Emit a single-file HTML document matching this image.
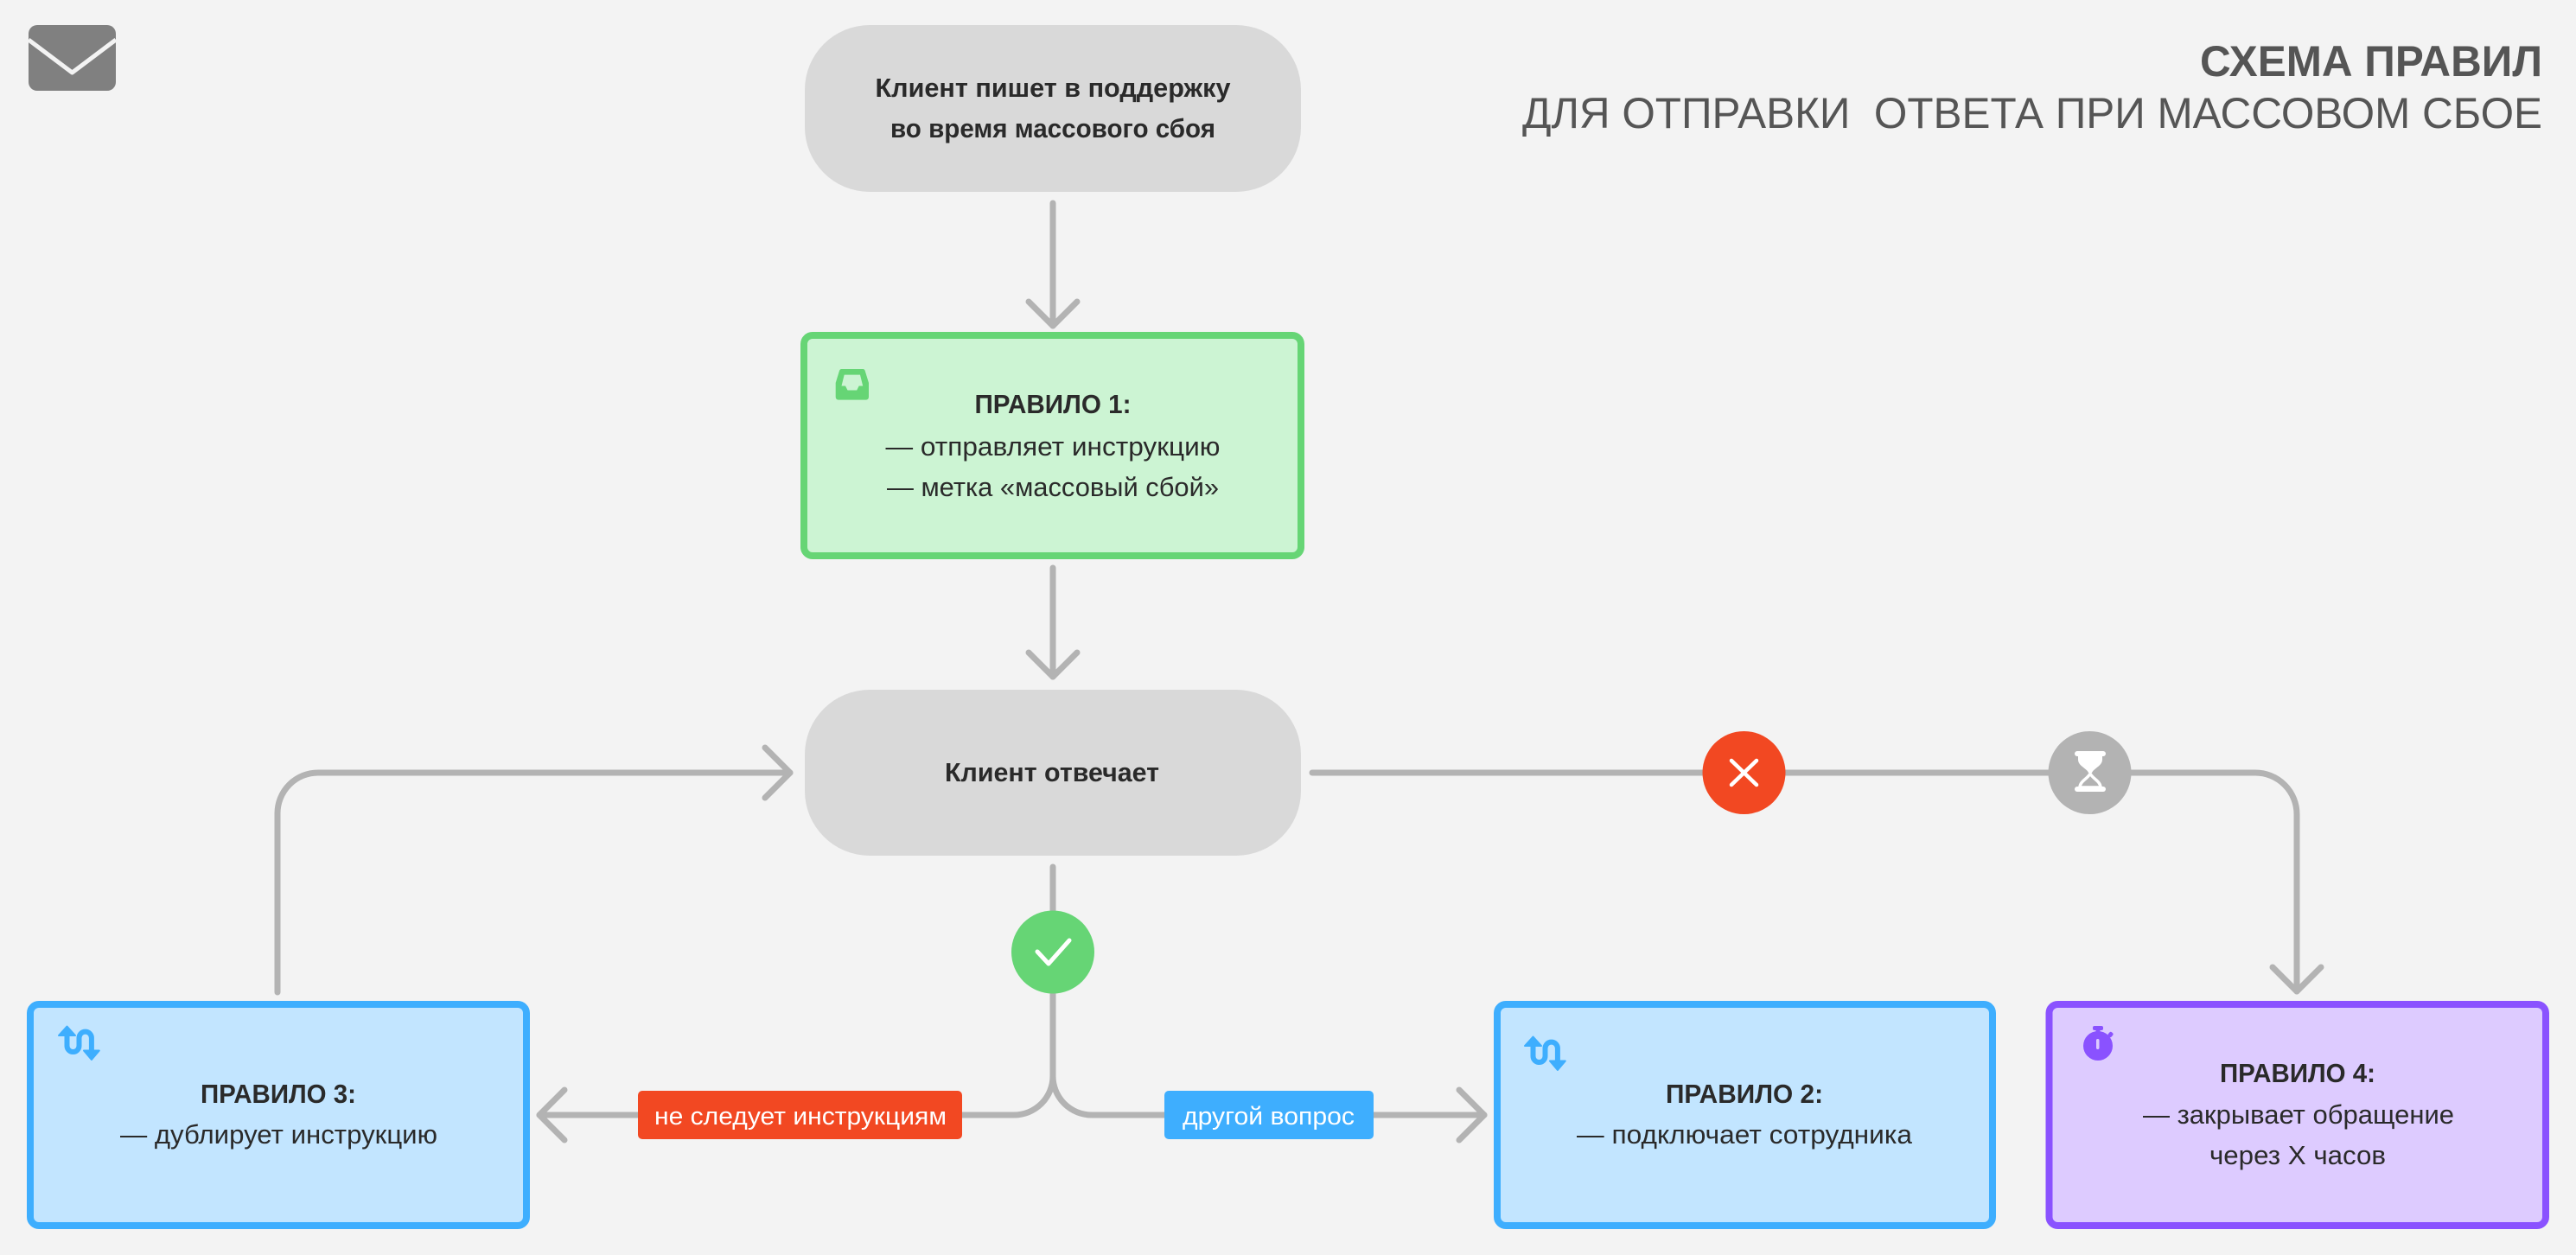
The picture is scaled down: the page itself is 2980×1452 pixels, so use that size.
<!DOCTYPE html>
<html>
<head>
<meta charset="utf-8">
<style>
html,body{margin:0;padding:0;background:#f3f3f3;}
svg{display:block;}
text{font-family:"Liberation Sans","Noto Sans CJK SC",sans-serif;}
</style>
</head>
<body>
<svg width="2980" height="1452" viewBox="0 0 2980 1452" xmlns="http://www.w3.org/2000/svg">
  <rect x="0" y="0" width="2980" height="1452" fill="#f3f3f3"/>

  <!-- mail icon -->
  <rect x="33" y="29" width="101" height="76" rx="10" fill="#808080"/>
  <polyline points="33,46 83.5,84 134,46" fill="none" stroke="#f3f3f3" stroke-width="5" stroke-linejoin="round"/>

  <!-- header -->
  <text x="2941" y="88" text-anchor="end" font-size="50" font-weight="bold" fill="#555555" textLength="396" lengthAdjust="spacingAndGlyphs">СХЕМА ПРАВИЛ</text>
  <text x="2941" y="148" text-anchor="end" font-size="50" fill="#555555" textLength="1180" lengthAdjust="spacingAndGlyphs" style="white-space:pre">ДЛЯ ОТПРАВКИ  ОТВЕТА ПРИ МАССОВОМ СБОЕ</text>

  <!-- connectors -->
  <g fill="none" stroke="#b3b3b3" stroke-width="7" stroke-linecap="round" stroke-linejoin="round">
    <path d="M1218 235 V377"/>
    <path d="M1190 349 L1218 377 L1246 349"/>
    <path d="M1218 657 V783"/>
    <path d="M1190 755 L1218 783 L1246 755"/>
    <path d="M321 1148 V941 A47 47 0 0 1 368 894 H914"/>
    <path d="M885 865 L914 894 L885 923"/>
    <path d="M1518 894 H2609 A48 48 0 0 1 2657 942 V1147"/>
    <path d="M2629 1119 L2657 1147 L2685 1119"/>
    <path d="M1218 1003 V1245 A45 45 0 0 1 1173 1290 H624"/>
    <path d="M653 1261 L624 1290 L653 1319"/>
    <path d="M1218 1245 A45 45 0 0 0 1263 1290 H1717"/>
    <path d="M1688 1261 L1717 1290 L1688 1319"/>
  </g>

  <!-- top pill -->
  <rect x="931" y="29" width="574" height="193" rx="75" fill="#d9d9d9"/>
  <text x="1218" y="112" text-anchor="middle" font-size="31" font-weight="bold" fill="#2a2a2a" textLength="411" lengthAdjust="spacingAndGlyphs">Клиент пишет в поддержку</text>
  <text x="1218" y="159" text-anchor="middle" font-size="31" font-weight="bold" fill="#2a2a2a" textLength="376" lengthAdjust="spacingAndGlyphs">во время массового сбоя</text>

  <!-- rule 1 green -->
  <rect x="930" y="388" width="575" height="255" rx="10" fill="#ccf4d3" stroke="#66d575" stroke-width="8"/>
  <g transform="translate(966.7,427)">
    <path d="M6.7 0 H31.6 Q33.3 0 34 2 L38.3 16 V32 Q38.3 35.6 35 35.6 H3.3 Q0 35.6 0 32 V16 L4.3 2 Q5 0 6.7 0 Z" fill="#66d575"/>
    <path d="M10 6.6 L28.3 6.6 L31.5 19.5 L27 19.5 L24.5 24.5 L13.8 24.5 L11.3 19.5 L6.8 19.5 Z" fill="#ccf4d3"/>
  </g>
  <text x="1218" y="478" text-anchor="middle" font-size="31" font-weight="bold" fill="#2a2a2a" textLength="181" lengthAdjust="spacingAndGlyphs">ПРАВИЛО 1:</text>
  <text x="1218" y="527" text-anchor="middle" font-size="31" fill="#2a2a2a" textLength="387" lengthAdjust="spacingAndGlyphs">— отправляет инструкцию</text>
  <text x="1218" y="574" text-anchor="middle" font-size="31" fill="#2a2a2a" textLength="384" lengthAdjust="spacingAndGlyphs">— метка «массовый сбой»</text>

  <!-- client responds pill -->
  <rect x="931" y="798" width="574" height="192" rx="75" fill="#d9d9d9"/>
  <text x="1217" y="904" text-anchor="middle" font-size="31" font-weight="bold" fill="#2a2a2a" textLength="248" lengthAdjust="spacingAndGlyphs">Клиент отвечает</text>

  <!-- red X circle -->
  <circle cx="2017.5" cy="894" r="48" fill="#f24822"/>
  <path d="M2003 880 L2032 908 M2032 880 L2003 908" stroke="#ffffff" stroke-width="4.5" stroke-linecap="round" fill="none"/>

  <!-- hourglass circle -->
  <circle cx="2417.5" cy="894" r="48" fill="#b3b3b3"/>
  <rect x="2400" y="869" width="36" height="6" rx="3" fill="#ffffff"/>
  <path d="M2404 874 L2432 874 L2432 879 C2432 886 2422 889 2420 894 L2416 894 C2414 889 2404 886 2404 879 Z" fill="#ffffff"/>
  <path d="M2418 895 C2421 901 2430 904 2430 911 L2406 911 C2406 904 2415 901 2418 895 Z" fill="none" stroke="#ffffff" stroke-width="3.5" stroke-linejoin="round"/>
  <rect x="2400" y="910" width="36" height="6" rx="3" fill="#ffffff"/>

  <!-- green check circle -->
  <circle cx="1218" cy="1101.5" r="48" fill="#66d575"/>
  <path d="M1200 1101 L1213 1115 L1237 1088" stroke="#ffffff" stroke-width="5" stroke-linecap="round" stroke-linejoin="round" fill="none"/>

  <!-- labels -->
  <rect x="738" y="1262" width="375" height="56" rx="5" fill="#f24822"/>
  <text x="926" y="1301" text-anchor="middle" font-size="29" fill="#ffffff" textLength="338" lengthAdjust="spacingAndGlyphs">не следует инструкциям</text>
  <rect x="1347" y="1262" width="242" height="56" rx="5" fill="#3eaefe"/>
  <text x="1467.5" y="1301" text-anchor="middle" font-size="29" fill="#ffffff" textLength="199" lengthAdjust="spacingAndGlyphs">другой вопрос</text>

  <!-- rule 3 -->
  <rect x="35" y="1162" width="574" height="256" rx="10" fill="#c2e5ff" stroke="#3eaefe" stroke-width="8"/>
  <g transform="translate(67,1187)" fill="none" stroke="#3eaefe" stroke-width="6" stroke-linecap="round">
    <path d="M10.5 9 V23 A7 7 0 0 0 24.5 23 V13.8 A7.2 7.2 0 0 1 38.9 13.8 V30"/>
    <path d="M1 11 L10.5 0.5 L20 11 Z" fill="#3eaefe" stroke-width="2" stroke-linejoin="round"/>
    <path d="M30 28.5 L38.9 39 L47.8 28.5 Z" fill="#3eaefe" stroke-width="2" stroke-linejoin="round"/>
  </g>
  <text x="322" y="1276" text-anchor="middle" font-size="31" font-weight="bold" fill="#2a2a2a" textLength="180" lengthAdjust="spacingAndGlyphs">ПРАВИЛО 3:</text>
  <text x="322.5" y="1323" text-anchor="middle" font-size="31" fill="#2a2a2a" textLength="367" lengthAdjust="spacingAndGlyphs">— дублирует инструкцию</text>

  <!-- rule 2 -->
  <rect x="1732" y="1162" width="573" height="256" rx="10" fill="#c2e5ff" stroke="#3eaefe" stroke-width="8"/>
  <g transform="translate(1763,1199)" fill="none" stroke="#3eaefe" stroke-width="6" stroke-linecap="round">
    <path d="M10.5 9 V23 A7 7 0 0 0 24.5 23 V13.8 A7.2 7.2 0 0 1 38.9 13.8 V30"/>
    <path d="M1 11 L10.5 0.5 L20 11 Z" fill="#3eaefe" stroke-width="2" stroke-linejoin="round"/>
    <path d="M30 28.5 L38.9 39 L47.8 28.5 Z" fill="#3eaefe" stroke-width="2" stroke-linejoin="round"/>
  </g>
  <text x="2018" y="1276" text-anchor="middle" font-size="31" font-weight="bold" fill="#2a2a2a" textLength="182" lengthAdjust="spacingAndGlyphs">ПРАВИЛО 2:</text>
  <text x="2018" y="1323" text-anchor="middle" font-size="31" fill="#2a2a2a" textLength="388" lengthAdjust="spacingAndGlyphs">— подключает сотрудника</text>

  <!-- rule 4 -->
  <rect x="2370.5" y="1162" width="574.5" height="256" rx="10" fill="#ddcbff" stroke="#8a52ff" stroke-width="8"/>
  <g fill="#8a52ff">
    <rect x="2421" y="1187" width="12" height="5" rx="2"/>
    <rect x="2424.5" y="1190" width="5" height="5"/>
    <circle cx="2427" cy="1210" r="17"/>
    <rect x="2439" y="1194" width="5" height="6" rx="2" transform="rotate(40 2441.5 1197)"/>
  </g>
  <rect x="2425" y="1202" width="3.5" height="12" rx="1.7" fill="#ddcbff"/>
  <text x="2658" y="1252" text-anchor="middle" font-size="31" font-weight="bold" fill="#2a2a2a" textLength="180" lengthAdjust="spacingAndGlyphs">ПРАВИЛО 4:</text>
  <text x="2659" y="1300" text-anchor="middle" font-size="31" fill="#2a2a2a" textLength="360" lengthAdjust="spacingAndGlyphs">— закрывает обращение</text>
  <text x="2658" y="1347" text-anchor="middle" font-size="31" fill="#2a2a2a" textLength="204" lengthAdjust="spacingAndGlyphs">через X часов</text>
</svg>
</body>
</html>
